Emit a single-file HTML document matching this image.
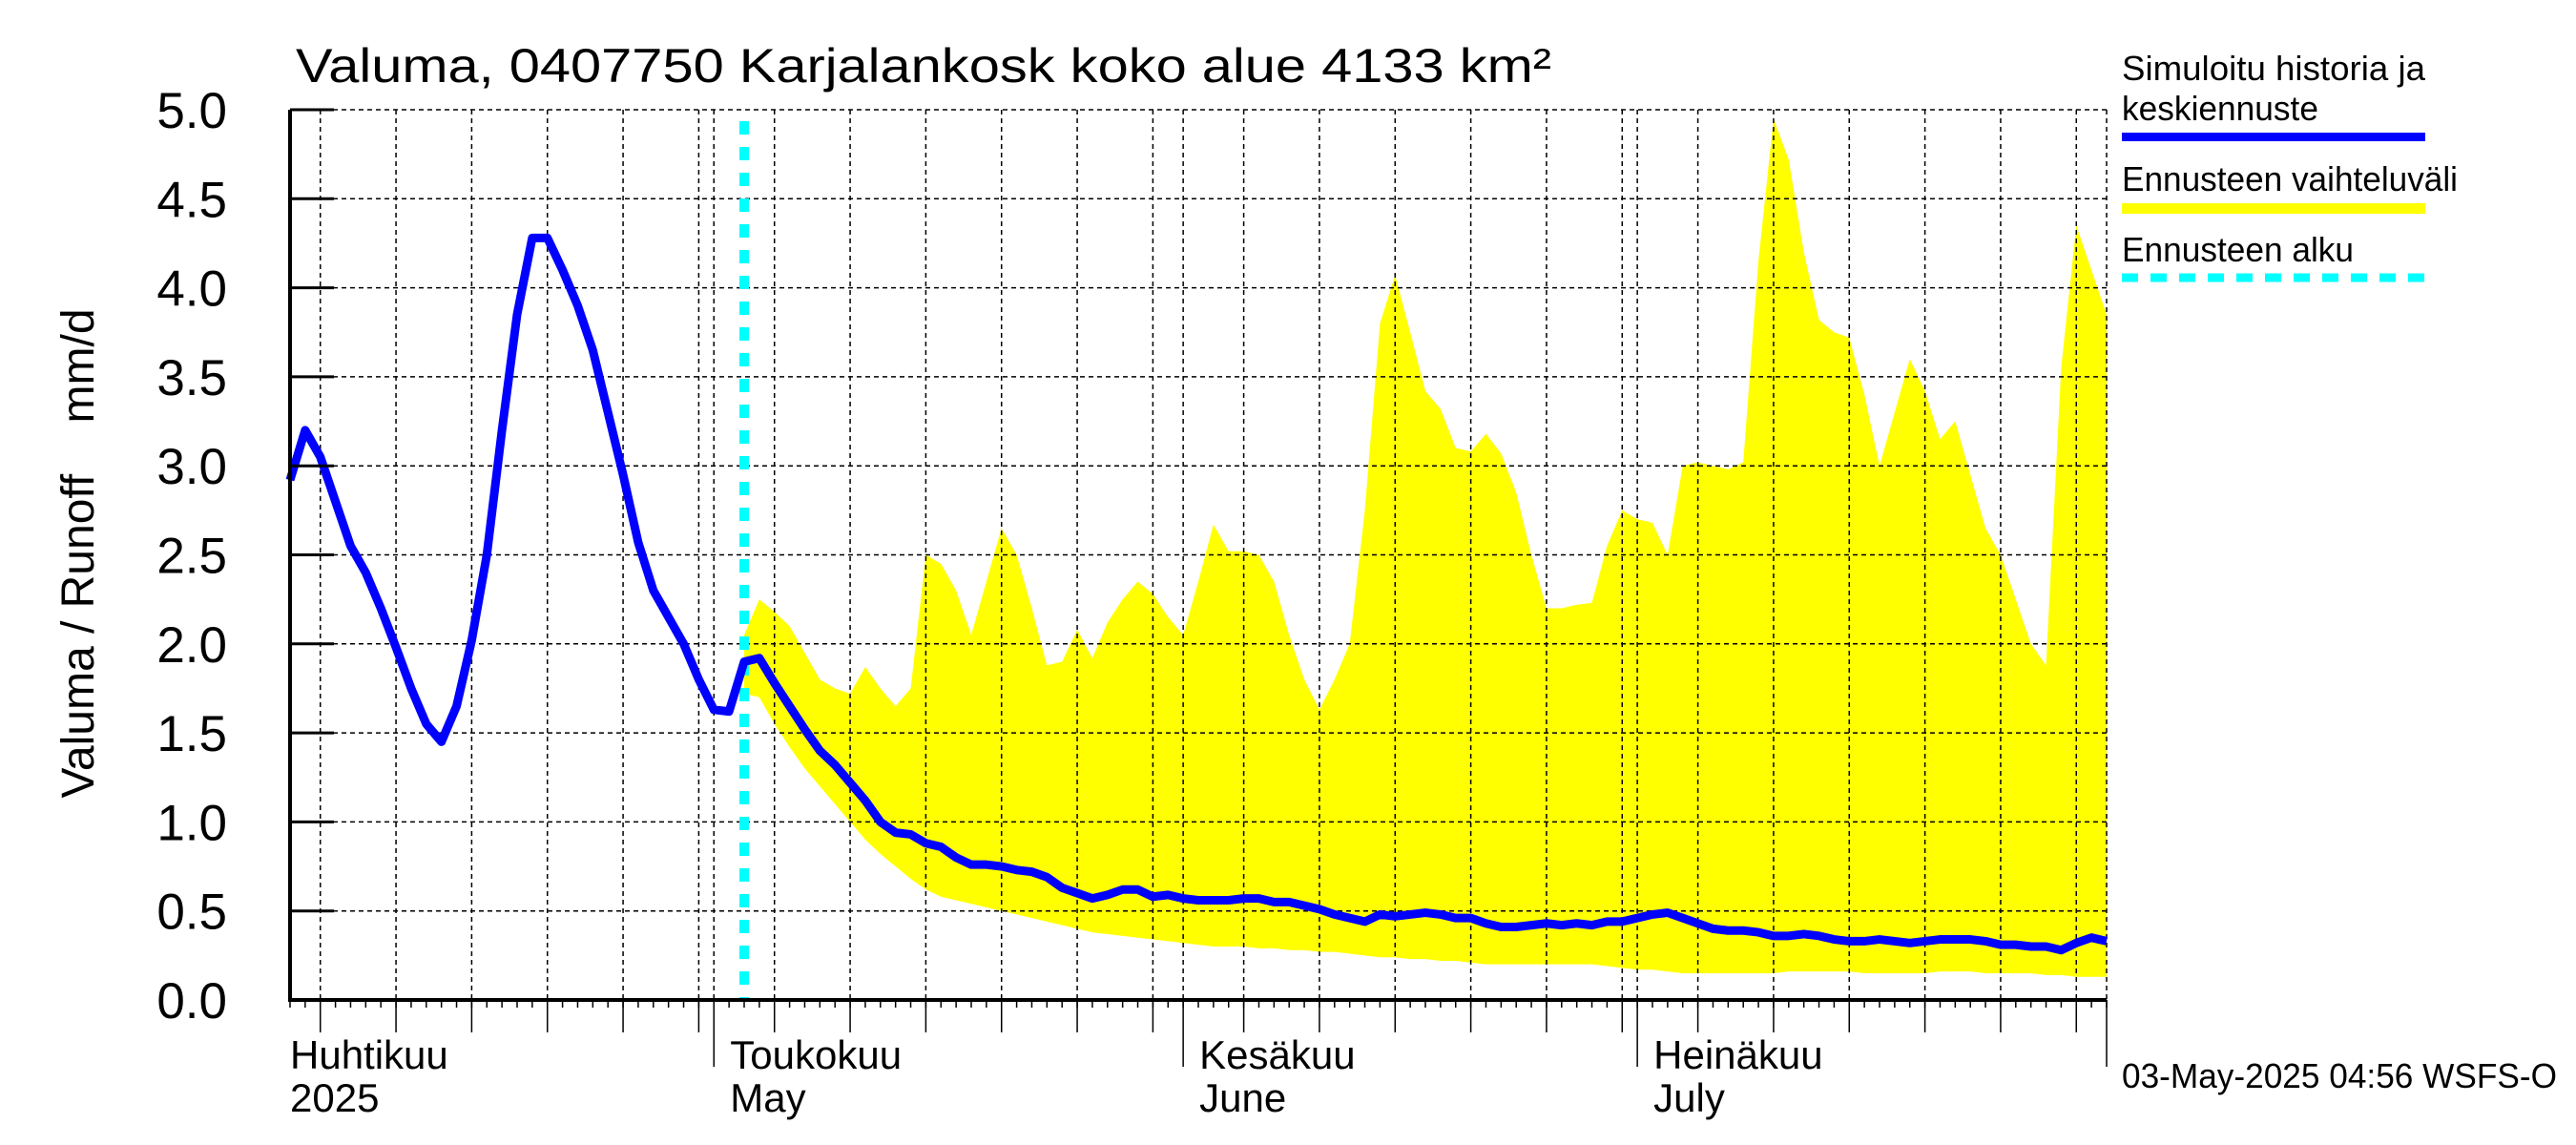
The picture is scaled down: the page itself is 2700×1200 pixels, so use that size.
<!DOCTYPE html>
<html><head><meta charset="utf-8"><title>Valuma 0407750</title>
<style>
html,body{margin:0;padding:0;background:#fff;}
svg{display:block;font-family:"Liberation Sans",Arial,sans-serif;}
</style></head>
<body>
<svg id="chart" width="2700" height="1200" viewBox="0 0 2700 1200" xmlns="http://www.w3.org/2000/svg">
<rect x="0" y="0" width="2700" height="1200" fill="#fff"/>
<g id="band"></g>
<g id="grid"></g>
<g id="series"></g>
<g id="axes"></g>
<text x="310" y="86" font-size="50" textLength="1316" lengthAdjust="spacingAndGlyphs">Valuma, 0407750 Karjalankosk koko alue 4133 km²</text>
<text transform="translate(98,580) rotate(-90)" text-anchor="middle" font-size="48" xml:space="preserve">Valuma / Runoff    mm/d</text>
<g>
<text x="2224" y="84" font-size="36" textLength="318" lengthAdjust="spacingAndGlyphs">Simuloitu historia ja</text>
<text x="2224" y="126" font-size="36" textLength="206" lengthAdjust="spacingAndGlyphs">keskiennuste</text>
<rect x="2224" y="139" width="318" height="9" fill="#0000ff"/>
<text x="2224" y="200" font-size="36" textLength="352" lengthAdjust="spacingAndGlyphs">Ennusteen vaihteluväli</text>
<rect x="2224" y="213" width="318" height="11" fill="#ffff00"/>
<text x="2224" y="274" font-size="36" textLength="243" lengthAdjust="spacingAndGlyphs">Ennusteen alku</text>
<line x1="2224" y1="291" x2="2542" y2="291" stroke="#00ffff" stroke-width="9" stroke-dasharray="17,13"/>
</g>
<text x="2224" y="1140" font-size="36" textLength="456" lengthAdjust="spacingAndGlyphs">03-May-2025 04:56 WSFS-O</text>
</svg>
<script>
// days from 3 Apr 2025 (day 0) to 1 Aug 2025 (day 120)
const simulated = [2.92,3.2,3.05,2.8,2.55,2.4,2.2,1.98,1.75,1.55,1.45,1.65,2.02,2.5,3.2,3.85,4.28,4.28,4.1,3.9,3.65,3.3,2.95,2.57,2.3,2.15,2.0,1.8,1.63,1.62,1.9,1.92,1.78,1.65,1.52,1.4,1.32,1.22,1.12,1.0,0.94,0.93,0.88,0.86,0.8,0.76,0.76,0.75,0.73,0.72,0.69,0.63,0.6,0.57,0.59,0.62,0.62,0.58,0.59,0.57,0.56,0.56,0.56,0.57,0.57,0.55,0.55,0.53,0.51,0.48,0.46,0.44,0.48,0.47,0.48,0.49,0.48,0.46,0.46,0.43,0.41,0.41,0.42,0.43,0.42,0.43,0.42,0.44,0.44,0.46,0.48,0.49,0.46,0.43,0.4,0.39,0.39,0.38,0.36,0.36,0.37,0.36,0.34,0.33,0.33,0.34,0.33,0.32,0.33,0.34,0.34,0.34,0.33,0.31,0.31,0.3,0.3,0.28,0.32,0.35,0.33];
const bandStartDay = 30;
const bandUpper = [2.05,2.25,2.18,2.1,1.95,1.8,1.75,1.72,1.87,1.75,1.65,1.75,2.5,2.45,2.3,2.05,2.35,2.65,2.5,2.2,1.88,1.9,2.08,1.92,2.12,2.25,2.35,2.28,2.15,2.05,2.35,2.67,2.52,2.52,2.5,2.35,2.05,1.8,1.63,1.8,2.0,2.75,3.8,4.07,3.75,3.42,3.32,3.1,3.08,3.18,3.07,2.85,2.5,2.2,2.2,2.22,2.23,2.55,2.75,2.7,2.68,2.5,3.0,3.02,3.0,2.98,3.02,4.15,4.95,4.72,4.2,3.82,3.75,3.72,3.4,3.0,3.3,3.6,3.42,3.15,3.25,2.95,2.65,2.5,2.25,2.0,1.88,3.55,4.35,4.1,3.85];
const bandLower = [1.72,1.7,1.55,1.42,1.3,1.2,1.1,1.0,0.9,0.82,0.75,0.68,0.62,0.58,0.56,0.54,0.52,0.5,0.48,0.46,0.44,0.42,0.4,0.38,0.37,0.36,0.35,0.34,0.33,0.32,0.31,0.3,0.3,0.3,0.29,0.29,0.28,0.28,0.27,0.27,0.26,0.25,0.24,0.24,0.23,0.23,0.22,0.22,0.21,0.2,0.2,0.2,0.2,0.2,0.2,0.2,0.2,0.19,0.18,0.17,0.17,0.16,0.15,0.15,0.15,0.15,0.15,0.15,0.15,0.16,0.16,0.16,0.16,0.16,0.15,0.15,0.15,0.15,0.15,0.16,0.16,0.16,0.15,0.15,0.15,0.15,0.14,0.14,0.13,0.13,0.13];
const forecastStartDay = 30;
const yTicks = [0,0.5,1,1.5,2,2.5,3,3.5,4,4.5,5];
const yTickLabels = ["0.0","0.5","1.0","1.5","2.0","2.5","3.0","3.5","4.0","4.5","5.0"];
const fiveDayTicks = [2,7,12,17,22,27,32,37,42,47,52,57,63,68,73,78,83,88,93,98,103,108,113,118];
const monthTicks = [28,59,89,120];
const monthLabelDays = [0,28,59,89];
const monthLabelsFi = ["Huhtikuu","Toukokuu","Kesäkuu","Heinäkuu"];
const monthLabelsEn = ["2025","May","June","July"];

const X0=304, X1=2208, Y0=1048, Y1=115, DMAX=120, VMAX=5;
const NS="http://www.w3.org/2000/svg";
function xs(d){return X0+d*(X1-X0)/DMAX;}
function ys(v){return Y0-v*(Y0-Y1)/VMAX;}
function mk(tag,attrs,parent){const e=document.createElementNS(NS,tag);for(const k in attrs)e.setAttribute(k,attrs[k]);parent.appendChild(e);return e;}
const grid=document.getElementById('grid'), axes=document.getElementById('axes'), band=document.getElementById('band'), series=document.getElementById('series');

// band
let pts=[];
bandUpper.forEach((v,i)=>pts.push(xs(bandStartDay+i)+','+ys(v)));
for(let i=bandLower.length-1;i>=0;i--)pts.push(xs(bandStartDay+i)+','+ys(bandLower[i]));
const poly=mk('polygon',{points:pts.join(' '),fill:'#ffff00'},band);



// horizontal grid + y ticks
yTicks.forEach((v,i)=>{
  if(v>0){const g=mk('line',{x1:X0,x2:X1,y1:ys(v),y2:ys(v),stroke:'#000','stroke-width':1.5,'stroke-dasharray':'5,4'},grid);
  
  }
  const t=mk('line',{x1:X0,x2:X0+46,y1:ys(v),y2:ys(v),stroke:'#000','stroke-width':3},axes);
  
  
  const l=mk('text',{x:238,y:ys(v)+19,'text-anchor':'end','font-size':53},axes);
  l.textContent=yTickLabels[i];
  
  
});
// vertical grid
fiveDayTicks.concat(monthTicks).forEach(d=>{
  const g=mk('line',{x1:xs(d),x2:xs(d),y1:Y1,y2:Y0,stroke:'#000','stroke-width':1.5,'stroke-dasharray':'5,4'},grid);
  
  
});
// minor ticks
for(let d=0;d<=DMAX;d++){
  const t=mk('line',{x1:xs(d),x2:xs(d),y1:Y0,y2:Y0+8,stroke:'#000','stroke-width':1.5},axes);
  
  
}
fiveDayTicks.forEach(d=>{
  const t=mk('line',{x1:xs(d),x2:xs(d),y1:Y0,y2:Y0+34,stroke:'#000','stroke-width':1.5},axes);
  
  
});
monthTicks.forEach(d=>{
  const t=mk('line',{x1:xs(d),x2:xs(d),y1:Y0,y2:Y0+70,stroke:'#000','stroke-width':1.5},axes);
  
  
});
monthLabelDays.forEach((d,i)=>{
  const x = i===0 ? X0 : xs(d)+17;
  const a=mk('text',{x:x,y:1120,'font-size':42},axes);
  a.textContent=monthLabelsFi[i];
  
  
  const b=mk('text',{x:x,y:1165,'font-size':42},axes);
  b.textContent=monthLabelsEn[i];
  
  
});
// axis lines
const ax1=mk('line',{x1:X0,x2:X0,y1:Y1,y2:Y0+2,stroke:'#000','stroke-width':4},axes);


const ax2=mk('line',{x1:X0-2,x2:X1,y1:Y0,y2:Y0,stroke:'#000','stroke-width':4},axes);



// forecast start
const fs=mk('line',{x1:xs(forecastStartDay),x2:xs(forecastStartDay),y1:Y1+12,y2:Y0,stroke:'#00ffff','stroke-width':10,'stroke-dasharray':'14,13'},series);


// simulated line
const line=mk('polyline',{points:simulated.map((v,i)=>xs(i)+','+ys(v)).join(' '),fill:'none',stroke:'#0000ff','stroke-width':9,'stroke-linejoin':'round'},series);


</script>
</body></html>
